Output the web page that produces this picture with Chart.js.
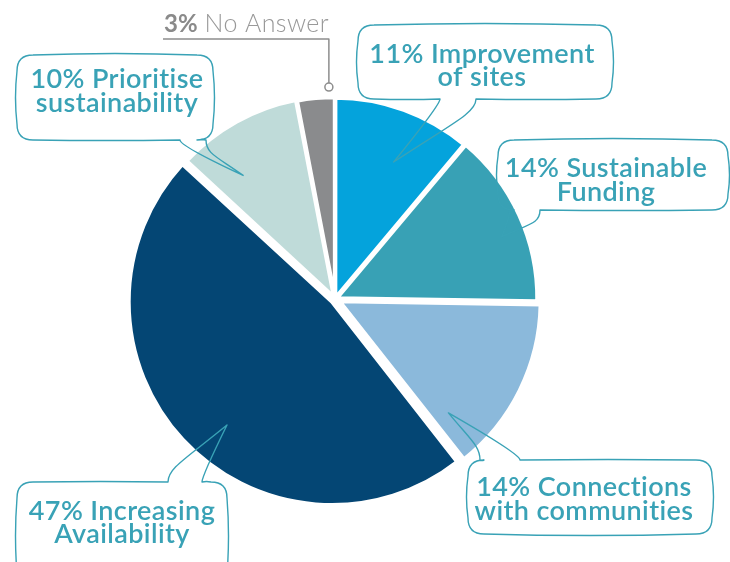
<!DOCTYPE html>
<html>
<head>
<meta charset="utf-8">
<script src="https://cdn.jsdelivr.net/npm/chart.js@4.4.1/dist/chart.umd.min.js"></script>
<style>
  html, body { margin: 0; padding: 0; background: #fff; }
  #wrap { width: 730px; height: 562px; position: relative; }
</style>
</head>
<body>
<div id="wrap"><canvas id="chart"></canvas></div>
<script>
// chart data
const labels = ['Improvement of sites', 'Sustainable Funding', 'Connections with communities',
                'Increasing Availability', 'Prioritise sustainability', 'No Answer'];
const values = [11, 14, 14, 47, 10, 3];
const colors = ['#04a3dc', '#38a1b5', '#8bb9db', '#044674', '#bfdbd9', '#8a8b8d'];
const labelLines = [
    ['Improvement', 'of sites'],
    ['Sustainable', 'Funding'],
    ['Connections', 'with communities'],
    ['Increasing', 'Availability'],
    ['Prioritise', 'sustainability'],
    ['No Answer']
];

const TEAL = '#39a2b6';
const FONT = 'Lato, "Open Sans", sans-serif';

// speech bubbles: box [left, top, right, bottom], which side the tail leaves from,
// tail base along that side, where on the slice the tail points (angle frac, radius frac)
const bubbles = [
    { index: 0, box: [358, 25, 612, 99], side: 'bottom', base: [440, 476], at: [0.58, 0.74], cx: 482, lines: [63, 86] },
    { index: 1, box: [498, 140, 728, 210], side: 'bottom', base: [510, 540], at: [0.58, 0.88], cx: 606, lines: [177, 201] },
    { index: 2, box: [468, 460, 712, 534], side: 'top', base: [480, 520], at: [0.88, 0.78], cx: 584, lines: [496, 520] },
    { index: 3, box: [17, 482, 227, 590], side: 'top', base: [168, 202], at: [0.46, 0.81], cx: 122, lines: [520, 543] },
    { index: 4, box: [17, 55, 213, 140], side: 'bottom', base: [180, 206], at: [0.29, 0.76], cx: 117, lines: [88, 112] }
];

function edge(ctx, x1, y1, x2, y2, bow) {
    const dx = x2 - x1, dy = y2 - y1;
    const len = Math.hypot(dx, dy) || 1;
    const mx = (x1 + x2) / 2 + dy / len * bow;
    const my = (y1 + y2) / 2 - dx / len * bow;
    ctx.quadraticCurveTo(mx, my, x2, y2);
}

function tail(ctx, p1, p2, out, tip) {
    ctx.lineTo(p1[0], p1[1]);
    ctx.bezierCurveTo(p1[0] + out[0] * 14, p1[1] + out[1] * 14,
                      p1[0] + out[0] * 6 + (tip[0] - p1[0]) * 0.3, p1[1] + out[1] * 6 + (tip[1] - p1[1]) * 0.3,
                      tip[0], tip[1]);
    ctx.quadraticCurveTo(p2[0] + out[0] * 6, p2[1] + out[1] * 6, p2[0], p2[1]);
}

function drawBubble(ctx, b, tip) {
    const [l, t, r, btm] = b.box;
    const k = 16, bow = 3;
    ctx.beginPath();
    ctx.moveTo(l + k, t);
    if (b.side === 'top') {
        edge(ctx, l + k, t, b.base[0], t, 1);
        tail(ctx, [b.base[0], t], [b.base[1], t], [0, -1], tip);
        edge(ctx, b.base[1], t, r - k, t, 1);
    } else {
        edge(ctx, l + k, t, r - k, t, bow);
    }
    ctx.quadraticCurveTo(r, t, r, t + k);
    edge(ctx, r, t + k, r, btm - k, bow);
    ctx.quadraticCurveTo(r, btm, r - k, btm);
    if (b.side === 'bottom') {
        edge(ctx, r - k, btm, b.base[1], btm, 1);
        tail(ctx, [b.base[1], btm], [b.base[0], btm], [0, 1], tip);
        edge(ctx, b.base[0], btm, l + k, btm, 1);
    } else {
        edge(ctx, r - k, btm, l + k, btm, bow);
    }
    ctx.quadraticCurveTo(l, btm, l, btm - k);
    edge(ctx, l, btm - k, l, t + k, bow);
    ctx.quadraticCurveTo(l, t, l + k, t);
    ctx.closePath();
    ctx.stroke();
}

const calloutPlugin = {
    id: 'callouts',
    afterDatasetsDraw(chart) {
        const ctx = chart.ctx;
        const arcs = chart.getDatasetMeta(0).data;

        function pointOn(i, frac, rf) {
            const a = arcs[i];
            const ang = a.startAngle + (a.endAngle - a.startAngle) * frac;
            const mid = (a.startAngle + a.endAngle) / 2;
            const off = (a.options.offset || 0) / 4;
            return [a.x + Math.cos(mid) * off + Math.cos(ang) * a.outerRadius * rf,
                    a.y + Math.sin(mid) * off + Math.sin(ang) * a.outerRadius * rf];
        }

        ctx.save();
        ctx.strokeStyle = TEAL;
        ctx.lineWidth = 1.4;
        ctx.lineJoin = 'round';
        bubbles.forEach(b => {
            const tip = pointOn(b.index, b.at[0], b.at[1]);
            drawBubble(ctx, b, tip);
            ctx.fillStyle = TEAL;
            ctx.textAlign = 'center';
            ctx.textBaseline = 'alphabetic';
            ctx.font = '600 27px ' + FONT;
            ctx.letterSpacing = '0.4px'; // also stops the "ti" ligature
            const lines = labelLines[b.index];
            ctx.fillText(values[b.index] + '% ' + lines[0], b.cx, b.lines[0]);
            ctx.fillText(lines[1], b.cx, b.lines[1]);
        });

        // "No Answer" leader
        const g = labels.length - 1;
        const dot = pointOn(g, 0.85, 1.055);
        ctx.strokeStyle = '#8d8d8d';
        ctx.lineWidth = 1.5;
        ctx.beginPath();
        ctx.moveTo(163, 39);
        ctx.lineTo(dot[0], 39);
        ctx.lineTo(dot[0], dot[1] - 4);
        ctx.stroke();
        ctx.beginPath();
        ctx.arc(dot[0], dot[1], 4, 0, Math.PI * 2);
        ctx.fillStyle = '#fff';
        ctx.fill();
        ctx.stroke();

        ctx.textAlign = 'left';
        ctx.fillStyle = '#8a8a8a';
        ctx.font = 'bold 24px ' + FONT;
        ctx.letterSpacing = '0px';
        const pct = values[g] + '%';
        ctx.fillText(pct, 164, 32);
        const w = ctx.measureText(pct).width;
        ctx.font = '300 25px ' + FONT;
        ctx.letterSpacing = '0.4px';
        ctx.fillStyle = '#999999';
        ctx.fillText(labelLines[g][0], 164 + w + 7, 32);
        ctx.restore();
    }
};

new Chart(document.getElementById('chart'), {
    type: 'pie',
    data: {
        labels: labels,
        datasets: [{
            data: values,
            backgroundColor: colors,
            borderColor: '#ffffff',
            borderWidth: 4,
            offset: [4, 8, 20, 16, 8, 4]
        }]
    },
    options: {
        responsive: true,
        maintainAspectRatio: false,
        animation: false,
        events: [],
        layout: { padding: { top: 87, bottom: 51, left: 0, right: 60 } },
        plugins: {
            legend: { display: false },
            tooltip: { enabled: false }
        }
    },
    plugins: [calloutPlugin]
});
</script>
</body>
</html>
